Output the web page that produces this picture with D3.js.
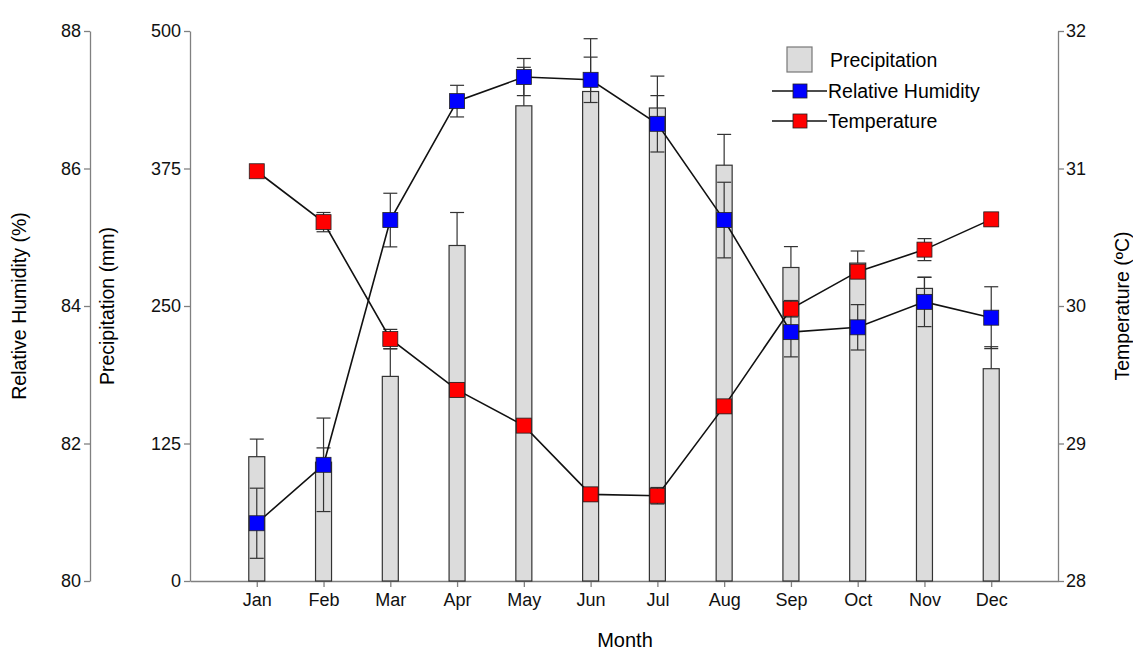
<!DOCTYPE html>
<html>
<head>
<meta charset="utf-8">
<script src="https://cdn.jsdelivr.net/npm/d3@7"></script>
<style>
  body { margin: 0; background: #fff; }
  svg { font-family: Arial, "Liberation Sans", sans-serif; }
  .axis path, .axis line { stroke: #808080; stroke-width: 1.3; }
  .axis text { fill: #111; font-size: 18px; }
</style>
</head>
<body>
<svg id="chart" width="1133" height="650"></svg>
<script>
var months = ["Jan", "Feb", "Mar", "Apr", "May", "Jun", "Jul", "Aug", "Sep", "Oct", "Nov", "Dec"];
var precip = [113, 108, 186, 305, 432, 445, 430, 378, 285, 289, 266, 193];
var precipErr = [16, 13, 25, 30, 35, 48, 29, 28, 19, 11, 10, 20];
var humidity = [80.84, 81.69, 85.25, 86.98, 87.33, 87.29, 86.65, 85.25, 83.62, 83.69, 84.06, 83.83];
var humidityErr = [0.51, 0.68, 0.39, 0.23, 0.27, 0.33, 0.41, 0.55, 0.36, 0.33, 0.36, 0.45];
var temperature = [30.98, 30.61, 29.76, 29.39, 29.13, 28.63, 28.62, 29.27, 29.98, 30.25, 30.41, 30.63];
var temperatureErr = [0.02, 0.07, 0.07, 0.05, 0.04, 0.05, 0.06, 0.05, 0.06, 0.05, 0.08, 0.05];
var precipTicks = [0, 125, 250, 375, 500];
var humidityTicks = [80, 82, 84, 86, 88];
var tempTicks = [28, 29, 30, 31, 32];

var svg = d3.select("#chart"),
    LEFT = 190, RIGHT = 1058, TOP = 31, BOTTOM = 581,
    RH_AXIS_X = 90;

var x = d3.scalePoint().domain(months).range([LEFT, RIGHT]).padding(1);
var yP = d3.scaleLinear().domain([0, 500]).range([BOTTOM, TOP]);
var yH = d3.scaleLinear().domain([80, 88]).range([BOTTOM, TOP]);
var yT = d3.scaleLinear().domain([28, 32]).range([BOTTOM, TOP]);

var data = months.map(function(m, i) {
    return { m: m, p: precip[i], pe: precipErr[i], h: humidity[i], he: humidityErr[i],
             t: temperature[i], te: temperatureErr[i] };
});

// axes
svg.append("g").attr("class", "axis")
   .attr("transform", "translate(" + RH_AXIS_X + ",0)")
   .call(d3.axisLeft(yH).tickValues(humidityTicks).tickSize(6).tickSizeOuter(0).tickPadding(3));
svg.append("g").attr("class", "axis")
   .attr("transform", "translate(" + LEFT + ",0)")
   .call(d3.axisLeft(yP).tickValues(precipTicks).tickSize(6).tickSizeOuter(0).tickPadding(3));
svg.append("g").attr("class", "axis")
   .attr("transform", "translate(" + RIGHT + ",0)")
   .call(d3.axisRight(yT).tickValues(tempTicks).tickFormat(d3.format("d")).tickSize(6).tickSizeOuter(0).tickPadding(2));
svg.append("g").attr("class", "axis")
   .attr("transform", "translate(0," + BOTTOM + ")")
   .call(d3.axisBottom(x).tickSize(6).tickSizeOuter(0).tickPadding(6));

// axis titles
svg.append("text").attr("transform", "translate(26,306) rotate(-90)")
   .attr("text-anchor", "middle").attr("font-size", 19.5).text("Relative Humidity (%)");
svg.append("text").attr("transform", "translate(114,306) rotate(-90)")
   .attr("text-anchor", "middle").attr("font-size", 19.5).text("Precipitation (mm)");
svg.append("text").attr("transform", "translate(1129,306) rotate(-90)")
   .attr("text-anchor", "middle").attr("font-size", 19.5).text("Temperature (\u00baC)");
svg.append("text").attr("x", 625).attr("y", 647)
   .attr("text-anchor", "middle").attr("font-size", 20).text("Month");

var BW = 16, CAP = 7;

// bars
svg.selectAll(".bar").data(data).enter().append("rect")
   .attr("x", function(d) { return x(d.m) - BW / 2; })
   .attr("y", function(d) { return yP(d.p); })
   .attr("width", BW)
   .attr("height", function(d) { return yP(0) - yP(d.p); })
   .attr("fill", "#dcdcdc").attr("stroke", "#333").attr("stroke-width", 1.2);

function errBars(cls, getX, y0, y1) {
    var g = svg.selectAll("." + cls).data(data).enter().append("g").attr("stroke", "#333").attr("stroke-width", 1.2);
    g.append("line").attr("x1", getX).attr("x2", getX).attr("y1", y0).attr("y2", y1);
    g.append("line").attr("x1", function(d) { return getX(d) - CAP; }).attr("x2", function(d) { return getX(d) + CAP; })
     .attr("y1", y1).attr("y2", y1);
    if (cls !== "perr") {
        g.append("line").attr("x1", function(d) { return getX(d) - CAP; }).attr("x2", function(d) { return getX(d) + CAP; })
         .attr("y1", y0).attr("y2", y0);
    }
}
var cx = function(d) { return x(d.m); };
errBars("perr", cx, function(d) { return yP(d.p); }, function(d) { return yP(d.p + d.pe); });
errBars("herr", cx, function(d) { return yH(d.h - d.he); }, function(d) { return yH(d.h + d.he); });
errBars("terr", cx, function(d) { return yT(d.t - d.te); }, function(d) { return yT(d.t + d.te); });

// lines
var lineH = d3.line().x(cx).y(function(d) { return yH(d.h); });
var lineT = d3.line().x(cx).y(function(d) { return yT(d.t); });
svg.append("path").attr("d", lineH(data)).attr("fill", "none").attr("stroke", "#111").attr("stroke-width", 1.6);
svg.append("path").attr("d", lineT(data)).attr("fill", "none").attr("stroke", "#111").attr("stroke-width", 1.6);

// markers
var MS = 15;
svg.selectAll(".mh").data(data).enter().append("rect")
   .attr("x", function(d) { return x(d.m) - MS / 2; })
   .attr("y", function(d) { return yH(d.h) - MS / 2; })
   .attr("width", MS).attr("height", MS)
   .attr("fill", "#0000ff").attr("stroke", "#222").attr("stroke-width", 0.8);
svg.selectAll(".mt").data(data).enter().append("rect")
   .attr("x", function(d) { return x(d.m) - MS / 2; })
   .attr("y", function(d) { return yT(d.t) - MS / 2; })
   .attr("width", MS).attr("height", MS)
   .attr("fill", "#ff0000").attr("stroke", "#222").attr("stroke-width", 0.8);

// legend
var lg = svg.append("g").attr("font-size", 19.5);
lg.append("rect").attr("x", 787).attr("y", 47).attr("width", 25).attr("height", 25)
  .attr("fill", "#dcdcdc").attr("stroke", "#777").attr("stroke-width", 1.2);
lg.append("text").attr("x", 830).attr("y", 67).text("Precipitation");
[["Relative Humidity", "#0000ff", 91], ["Temperature", "#ff0000", 121]].forEach(function(s) {
    lg.append("line").attr("x1", 772).attr("x2", 827).attr("y1", s[2]).attr("y2", s[2])
      .attr("stroke", "#111").attr("stroke-width", 1.6);
    lg.append("rect").attr("x", 800 - 7).attr("y", s[2] - 7).attr("width", 14).attr("height", 14)
      .attr("fill", s[1]).attr("stroke", "#222").attr("stroke-width", 0.8);
    lg.append("text").attr("x", 828).attr("y", s[2] + 7).text(s[0]);
});
</script>
</body>
</html>
